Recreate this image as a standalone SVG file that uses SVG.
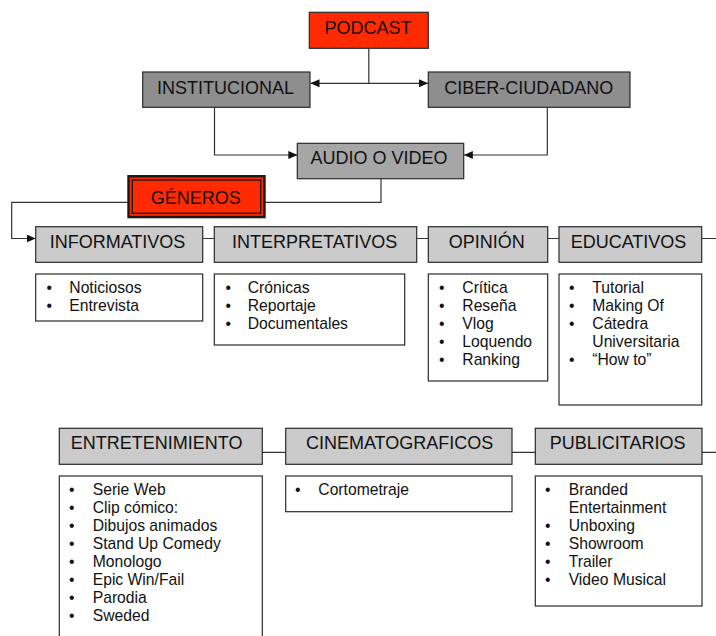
<svg xmlns="http://www.w3.org/2000/svg" width="716" height="636" viewBox="0 0 716 636">
<defs>
<style>
text{font-family:"Liberation Sans",Arial,Helvetica,sans-serif;fill:#111}
.h{font-size:18px;text-anchor:middle}
.li{font-size:15.7px}
.b{font-size:15.7px;text-anchor:middle}
.box{stroke:#2a2a2a;stroke-width:1.2}
.red{fill:#ff2a00}
.dk{fill:#8e8e8e}
.md{fill:#a6a6a6}
.lt{fill:#cbcbcb}
.wh{fill:#ffffff}
.con{fill:none;stroke:#333;stroke-width:1.2}
</style>
<marker id="arr" markerUnits="userSpaceOnUse" markerWidth="9" markerHeight="8" refX="9" refY="4" orient="auto">
<path d="M0,0 L9,4 L0,8 z" fill="#111"/>
</marker>
</defs>
<rect width="716" height="636" fill="#fff"/>

<g id="connectors">
<path class="con" d="M368.8,48.3 V83.3 H310.5" marker-end="url(#arr)"/>
<path class="con" d="M368.8,83.3 H428" marker-end="url(#arr)"/>
<path class="con" d="M214.5,107.3 V155 H297.3" marker-end="url(#arr)"/>
<path class="con" d="M547.3,107.3 V155 H463.8" marker-end="url(#arr)"/>
<path class="con" d="M381,178.7 V202.3 H11.7 V238.5 H35.7" marker-end="url(#arr)"/>
<path class="con" d="M202.7,238.5 H214.3 M416.7,238.5 H428.3 M547.7,238.5 H559 M701.7,238.5 H716"/>
<path class="con" d="M262.3,452.3 H285.7 M512,452.3 H535.3 M702,452.3 H716"/>
</g>

<g id="podcast">
<rect class="box red" x="309.3" y="12.3" width="119" height="36"/>
<text class="h" x="368" y="34">PODCAST</text>
</g>
<g id="institucional">
<rect class="box dk" x="142.7" y="72" width="167.3" height="35.3"/>
<text class="h" x="225.5" y="94.3">INSTITUCIONAL</text>
</g>
<g id="ciber-ciudadano">
<rect class="box dk" x="428.3" y="72" width="201.7" height="35.3"/>
<text class="h" x="528.8" y="94.3">CIBER-CIUDADANO</text>
</g>
<g id="audio-video">
<rect class="box md" x="297.3" y="143.3" width="166.4" height="35.4"/>
<text class="h" x="379" y="164.3">AUDIO O VIDEO</text>
</g>
<g id="generos">
<rect x="127.3" y="175" width="138.4" height="43.3" fill="#1a1a1a"/>
<rect x="129.8" y="177.5" width="133.4" height="38.3" class="red"/>
<rect x="132.3" y="180" width="128.4" height="33.3" fill="none" stroke="#1a1a1a" stroke-width="1.4"/>
<text class="h" x="195.7" y="204.3">GÉNEROS</text>
</g>

<g id="informativos">
<rect class="box lt" x="35.7" y="226.7" width="167" height="35.6"/>
<text class="h" x="117.5" y="248">INFORMATIVOS</text>
<rect class="box wh" x="35.7" y="274" width="167" height="47"/>
<text class="b" x="49.3" y="293.3">•</text><text class="li" x="69.3" y="293.3">Noticiosos</text>
<text class="b" x="49.3" y="311.3">•</text><text class="li" x="69.3" y="311.3">Entrevista</text>
</g>
<g id="interpretativos">
<rect class="box lt" x="214.3" y="226.7" width="202.4" height="35.6"/>
<text class="h" x="314.7" y="248">INTERPRETATIVOS</text>
<rect class="box wh" x="214.3" y="274" width="190.4" height="71"/>
<text class="b" x="228.3" y="293.3">•</text><text class="li" x="247.7" y="293.3">Crónicas</text>
<text class="b" x="228.3" y="311.3">•</text><text class="li" x="247.7" y="311.3">Reportaje</text>
<text class="b" x="228.3" y="329.3">•</text><text class="li" x="247.7" y="329.3">Documentales</text>
</g>
<g id="opinion">
<rect class="box lt" x="428.3" y="226.7" width="119.4" height="35.6"/>
<text class="h" x="486.7" y="248">OPINIÓN</text>
<rect class="box wh" x="428.3" y="274" width="119.4" height="107"/>
<text class="b" x="441.7" y="293.3">•</text><text class="li" x="462.3" y="293.3">Crítica</text>
<text class="b" x="441.7" y="311.3">•</text><text class="li" x="462.3" y="311.3">Reseña</text>
<text class="b" x="441.7" y="329.3">•</text><text class="li" x="462.3" y="329.3">Vlog</text>
<text class="b" x="441.7" y="347.3">•</text><text class="li" x="462.3" y="347.3">Loquendo</text>
<text class="b" x="441.7" y="365.3">•</text><text class="li" x="462.3" y="365.3">Ranking</text>
</g>
<g id="educativos">
<rect class="box lt" x="559" y="226.7" width="142.7" height="35.6"/>
<text class="h" x="628.5" y="248">EDUCATIVOS</text>
<rect class="box wh" x="559" y="274" width="142.7" height="131"/>
<text class="b" x="571.7" y="293.3">•</text><text class="li" x="592.3" y="293.3">Tutorial</text>
<text class="b" x="571.7" y="311.3">•</text><text class="li" x="592.3" y="311.3">Making Of</text>
<text class="b" x="571.7" y="329.3">•</text><text class="li" x="592.3" y="329.3">Cátedra</text>
<text class="li" x="592.3" y="347.3">Universitaria</text>
<text class="b" x="571.7" y="365.3">•</text><text class="li" x="592.3" y="365.3">“How to”</text>
</g>

<g id="entretenimiento">
<rect class="box lt" x="59.3" y="428.3" width="203" height="36"/>
<text class="h" x="156.7" y="449.3">ENTRETENIMIENTO</text>
<rect class="box wh" x="59.3" y="476" width="203" height="170"/>
<text class="b" x="71.7" y="495">•</text><text class="li" x="92.7" y="495">Serie Web</text>
<text class="b" x="71.7" y="513">•</text><text class="li" x="92.7" y="513">Clip cómico:</text>
<text class="b" x="71.7" y="531">•</text><text class="li" x="92.7" y="531">Dibujos animados</text>
<text class="b" x="71.7" y="549">•</text><text class="li" x="92.7" y="549">Stand Up Comedy</text>
<text class="b" x="71.7" y="567">•</text><text class="li" x="92.7" y="567">Monologo</text>
<text class="b" x="71.7" y="585">•</text><text class="li" x="92.7" y="585">Epic Win/Fail</text>
<text class="b" x="71.7" y="603">•</text><text class="li" x="92.7" y="603">Parodia</text>
<text class="b" x="71.7" y="621">•</text><text class="li" x="92.7" y="621">Sweded</text>
</g>
<g id="cinematograficos">
<rect class="box lt" x="285.7" y="428.3" width="226.3" height="36"/>
<text class="h" x="399.6" y="449.3">CINEMATOGRAFICOS</text>
<rect class="box wh" x="285.7" y="476" width="226.3" height="35.7"/>
<text class="b" x="297.7" y="495">•</text><text class="li" x="318.3" y="495">Cortometraje</text>
</g>
<g id="publicitarios">
<rect class="box lt" x="535.3" y="428.3" width="166.7" height="36"/>
<text class="h" x="617.7" y="449.3">PUBLICITARIOS</text>
<rect class="box wh" x="535.3" y="476" width="166.7" height="130"/>
<text class="b" x="547.7" y="495">•</text><text class="li" x="568.7" y="495">Branded</text>
<text class="li" x="568.7" y="513">Entertainment</text>
<text class="b" x="547.7" y="531">•</text><text class="li" x="568.7" y="531">Unboxing</text>
<text class="b" x="547.7" y="549">•</text><text class="li" x="568.7" y="549">Showroom</text>
<text class="b" x="547.7" y="567">•</text><text class="li" x="568.7" y="567">Trailer</text>
<text class="b" x="547.7" y="585">•</text><text class="li" x="568.7" y="585">Video Musical</text>
</g>
</svg>
